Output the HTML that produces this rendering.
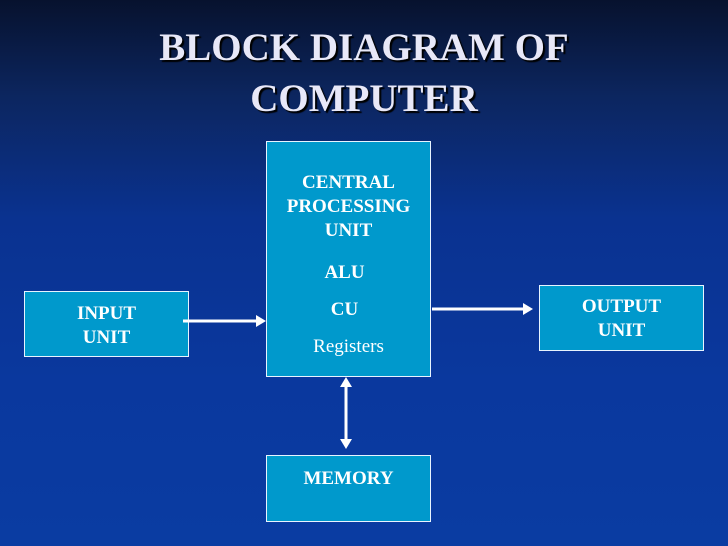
<!DOCTYPE html>
<html><head><style>
body{margin:0;width:728px;height:546px;overflow:hidden;font-family:"Liberation Serif",serif;}
.bg{position:absolute;left:0;top:0;width:728px;height:546px;background:linear-gradient(180deg,#07122e 0%,#0c2660 18%,#0a3290 40%,#0a389e 70%,#0a3ca2 100%);}
.box{position:absolute;background:#0099cc;border:1px solid #e8f4ff;box-sizing:border-box;}
.t{position:absolute;color:#fff;font-weight:bold;font-size:19px;text-align:center;width:100%;line-height:24px;}
h1{position:absolute;margin:0;left:0;width:728px;top:22px;text-align:center;color:#e8e8f8;font-size:39px;line-height:51px;font-weight:bold;text-shadow:2px 2px 1px #000;}
</style></head><body>
<div class="bg"></div>
<h1>BLOCK DIAGRAM OF<br>COMPUTER</h1>
<div class="box" style="left:266px;top:141px;width:165px;height:236px">
 <div class="t" style="top:29px">CENTRAL<br>PROCESSING<br>UNIT</div>
 <div class="t" style="top:119px;left:-4px">ALU</div>
 <div class="t" style="top:156px;left:-4px">CU</div>
 <div class="t" style="top:193px;font-weight:normal">Registers</div>
</div>
<div class="box" style="left:24px;top:291px;width:165px;height:66px"><div class="t" style="top:10px">INPUT<br>UNIT</div></div>
<div class="box" style="left:539px;top:285px;width:165px;height:66px"><div class="t" style="top:9px">OUTPUT<br>UNIT</div></div>
<div class="box" style="left:266px;top:455px;width:165px;height:67px"><div class="t" style="top:11px">MEMORY</div></div>
<svg width="728" height="546" style="position:absolute;left:0;top:0">
<g stroke="#fff" stroke-width="3" fill="#fff">
<line x1="183" y1="321" x2="258" y2="321"/><polygon points="256,315 266,321 256,327" stroke="none"/>
<line x1="432" y1="309" x2="525" y2="309"/><polygon points="523,303 533,309 523,315" stroke="none"/>
<line x1="346" y1="386" x2="346" y2="440"/><polygon points="340,387 346,377 352,387" stroke="none"/><polygon points="340,439 346,449 352,439" stroke="none"/>
</g></svg>
</body></html>
